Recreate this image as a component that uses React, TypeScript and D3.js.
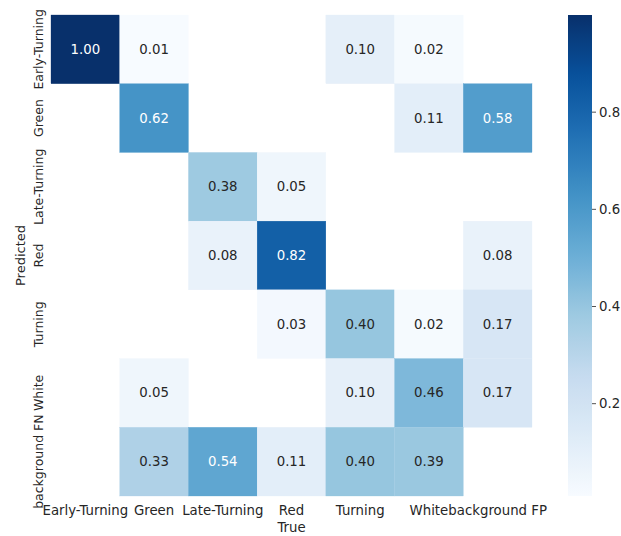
import React from "react";
import * as d3 from "d3";

// Class names along each axis
const trueLabels = ["Early-Turning", "Green", "Late-Turning", "Red", "Turning", "White", "background FP"];
const predLabels = ["Early-Turning", "Green", "Late-Turning", "Red", "Turning", "White", "background FN"];

// Normalised confusion matrix, one array per predicted row (null = empty cell)
const rowEarlyTurning = [1.0, 0.01, null, null, 0.1, 0.02, null];
const rowGreen = [null, 0.62, null, null, null, 0.11, 0.58];
const rowLateTurning = [null, null, 0.38, 0.05, null, null, null];
const rowRed = [null, null, 0.08, 0.82, null, null, 0.08];
const rowTurning = [null, null, null, 0.03, 0.4, 0.02, 0.17];
const rowWhite = [null, 0.05, null, null, 0.1, 0.46, 0.17];
const rowBackground = [null, 0.33, 0.54, 0.11, 0.4, 0.39, null];
const matrix: (number | null)[][] = [
  rowEarlyTurning,
  rowGreen,
  rowLateTurning,
  rowRed,
  rowTurning,
  rowWhite,
  rowBackground,
];

const colorbarTicks = [0.2, 0.4, 0.6, 0.8];

// Matplotlib "Blues" anchor colours
const bluesStops = ["#f7fbff", "#deebf7", "#c6dbef", "#9ecae1", "#6baed6", "#4292c6", "#2171b5", "#08519c", "#08306b"];

const W = 621;
const H = 536;
const FONT = "DejaVu Sans, sans-serif";
const DARK = "#262626";
const X_LABEL_SIZE = 13.3;
const Y_LABEL_SIZE = 12.5;

function luminance(c: string): number {
  const rgb = d3.rgb(c);
  const lin = (v: number) => {
    const s = v / 255;
    return s <= 0.03928 ? s / 12.92 : Math.pow((s + 0.055) / 1.055, 2.4);
  };
  return 0.2126 * lin(rgb.r) + 0.7152 * lin(rgb.g) + 0.0722 * lin(rgb.b);
}

export default function App() {
  const vals = matrix.flat().filter((v): v is number => v !== null);
  const vmin = d3.min(vals)!;
  const vmax = d3.max(vals)!;

  const color = d3
    .scaleLinear<string>()
    .domain(bluesStops.map((_, i) => vmin + (i / (bluesStops.length - 1)) * (vmax - vmin)))
    .range(bluesStops)
    .interpolate(d3.interpolateRgb)
    .clamp(true);

  const x = d3.scaleBand<string>().domain(trueLabels).range([51, 532]);
  const y = d3.scaleBand<string>().domain(predLabels).range([15, 496]);

  const cbX = 568;
  const cbW = 24;
  const cbY = d3.scaleLinear().domain([vmin, vmax]).range([496, 15]);

  const gradStops = d3.range(0, 1.0001, 0.02).map((t) => ({
    offset: t,
    c: color(vmin + t * (vmax - vmin)),
  }));

  return (
    <svg
      width={W}
      height={H}
      style={{ position: "absolute", left: 0, top: 0, background: "#fff" }}
      fontFamily={FONT}
    >
      <defs>
        <linearGradient id="cbGrad" x1="0" y1="1" x2="0" y2="0">
          {gradStops.map((s, i) => (
            <stop key={i} offset={s.offset} stopColor={s.c} />
          ))}
        </linearGradient>
      </defs>
      <rect width={W} height={H} fill="#fff" />

      {/* heatmap cells */}
      {matrix.map((row, ri) =>
        row.map((v, ci) => {
          if (v === null) return null;
          const fill = color(v);
          const cx = x(trueLabels[ci])!;
          const cy = y(predLabels[ri])!;
          const textColor = luminance(fill) > 0.408 ? DARK : "#ffffff";
          return (
            <g key={`${ri}-${ci}`}>
              <rect x={cx} y={cy} width={x.bandwidth()} height={y.bandwidth()} fill={fill} stroke={fill} strokeWidth={0.3} />
              <text
                x={cx + x.bandwidth() / 2}
                y={cy + y.bandwidth() / 2}
                textAnchor="middle"
                dominantBaseline="central"
                fontSize={13.3}
                fill={textColor}
              >
                {v.toFixed(2)}
              </text>
            </g>
          );
        })
      )}

      {/* x tick labels */}
      {trueLabels.map((l) => (
        <text key={l} x={x(l)! + x.bandwidth() / 2} y={515} textAnchor="middle" fontSize={X_LABEL_SIZE} fill={DARK}>
          {l}
        </text>
      ))}
      <text x={(51 + 532) / 2} y={532} textAnchor="middle" fontSize={X_LABEL_SIZE} fill={DARK}>
        True
      </text>

      {/* y tick labels */}
      {predLabels.map((l) => {
        const cy = y(l)! + y.bandwidth() / 2;
        return (
          <text
            key={l}
            transform={`translate(43,${cy}) rotate(-90)`}
            textAnchor="middle"
            fontSize={Y_LABEL_SIZE}
            fill={DARK}
          >
            {l}
          </text>
        );
      })}
      <text transform={`translate(25,${(15 + 496) / 2}) rotate(-90)`} textAnchor="middle" fontSize={Y_LABEL_SIZE + 0.5} fill={DARK}>
        Predicted
      </text>

      {/* colorbar */}
      <rect x={cbX} y={15} width={cbW} height={481} fill="url(#cbGrad)" />
      {colorbarTicks.map((t) => (
        <g key={t}>
          <line x1={cbX + cbW} x2={cbX + cbW + 4} y1={cbY(t)} y2={cbY(t)} stroke={DARK} strokeWidth={0.8} />
          <text x={cbX + cbW + 7} y={cbY(t)} dominantBaseline="central" fontSize={X_LABEL_SIZE} fill={DARK}>
            {t.toFixed(1)}
          </text>
        </g>
      ))}
    </svg>
  );
}
